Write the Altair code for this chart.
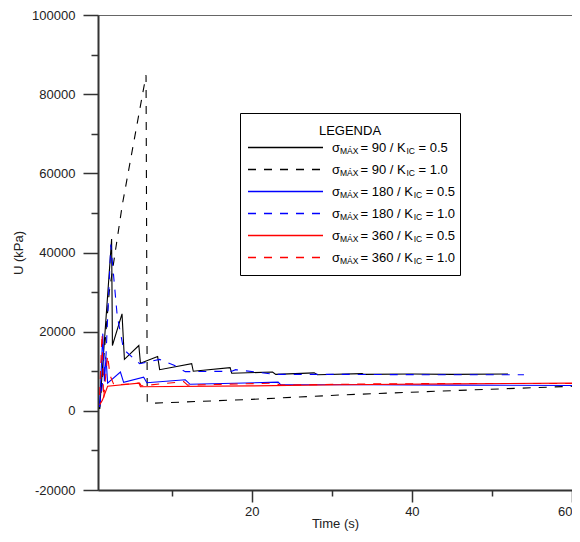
import altair as alt
import pandas as pd

# ---- data (Time in s, U in kPa) ----
t_90_05 = [1.0, 2.5, 2.6, 3.8, 4.1, 5.9, 6.1, 8.25, 8.5, 12.5, 12.7, 17.3, 17.5, 22.6, 23.0, 27.8, 28.2, 33.8, 34.0, 40.0, 45.0, 52.0]
u_90_05 = [500, 43400, 16500, 24500, 13000, 16500, 12000, 13700, 10400, 11900, 10000, 10900, 9500, 9800, 9200, 9600, 9100, 9400, 9200, 9300, 9200, 9300]

t_90_10 = [1.0, 2.2, 3.84, 6.8, 6.95, 7.3, 20.0, 31.0, 45.0, 60.0]
u_90_10 = [500, 30000, 52100, 84800, 2300, 1900, 2900, 4000, 5100, 6200]

t_180_05 = [1.0, 1.4, 1.6, 1.8, 2.0, 3.6, 4.0, 6.5, 6.9, 11.7, 12.3, 23.3, 23.6, 35.0, 45.0, 60.0]
u_180_05 = [1000, 19500, 7500, 13500, 7000, 9800, 7200, 8500, 7100, 7850, 6700, 7250, 6600, 6600, 6500, 6400]

t_180_10 = [1.0, 1.8, 2.4, 3.2, 4.0, 6.0, 8.5, 10.3, 11.7, 17.5, 18.0, 23.0, 32.0, 45.0, 54.0]
u_180_10 = [1000, 14000, 42000, 24000, 15500, 11900, 13000, 11500, 9900, 10000, 10400, 9200, 9200, 9100, 9100]

t_360_05 = [1.0, 1.35, 2.0, 5.9, 6.1, 20.0, 31.0, 45.0, 60.0]
u_360_05 = [1500, 2700, 6200, 7000, 6100, 6300, 6600, 6800, 7000]

t_360_10 = [1.0, 1.3, 1.5, 2.0, 2.3, 2.8, 6.0, 6.2, 11.5, 12.0, 23.0, 23.5, 35.0, 45.0, 60.0]
u_360_10 = [4000, 19500, 3000, 14000, 9000, 6500, 7000, 6300, 7400, 6500, 7000, 6500, 6800, 6900, 6900]

leg_sigma = ["90", "90", "180", "180", "360", "360"]
leg_k = ["0.5", "1.0", "0.5", "1.0", "0.5", "1.0"]

x_major = [20, 40, 60]
x_minor = [10, 30, 50]
y_major = [-20000, 0, 20000, 40000, 60000, 80000, 100000]
y_minor = [-10000, 10000, 30000, 50000, 70000, 90000]

FONT = "Liberation Sans"

series = [
    (t_90_05, u_90_05, "#000000", None),
    (t_90_10, u_90_10, "#000000", [8, 8]),
    (t_180_05, u_180_05, "#0000ff", None),
    (t_180_10, u_180_10, "#0000ff", [8, 8]),
    (t_360_05, u_360_05, "#ff0000", None),
    (t_360_10, u_360_10, "#ff0000", [8, 8]),
]

xscale = alt.Scale(domain=[0.8, 60], nice=False, zero=False)
yscale = alt.Scale(domain=[-20000, 100000], nice=False, zero=False)

x_axis_major = alt.Axis(
    values=x_major, orient="bottom", tickSize=12, tickColor="#333", tickWidth=1.5,
    domainColor="#333", domainWidth=2, labelFontSize=13, labelColor="#222",
    labelPadding=3, labelFlush=True, labelOverlap=False, grid=False,
    title="Time (s)", titleFontSize=13, titleFontWeight="normal", titleColor="#222",
    titleY=33, titleBaseline="middle", format="d",
)
y_axis_major = alt.Axis(
    values=y_major, orient="left", tickSize=15, tickColor="#333", tickWidth=1.5,
    domainColor="#333", domainWidth=2, labelFontSize=13, labelColor="#222",
    labelPadding=8, labelOverlap=False, grid=False,
    labelExpr="'' + datum.value",
    title="U (kPa)", titleFontSize=13, titleFontWeight="normal", titleColor="#222",
    titleX=-80, titleY=237.5, titleBaseline="middle",
)
x_enc = alt.X("t:Q", scale=xscale, axis=x_axis_major)
y_enc = alt.Y("U:Q", scale=yscale, axis=y_axis_major)

layers = []
for i, (tt, uu, col, dash) in enumerate(series):
    df = pd.DataFrame({"t": tt, "U": uu, "o": list(range(len(tt)))})
    kw = dict(color=col, strokeWidth=1.1, clip=True)
    if dash:
        kw["strokeDash"] = dash
    layers.append(alt.Chart(df).mark_line(**kw).encode(x=x_enc, y=y_enc, order="o:Q"))

# ---- manual legend ----
one = pd.DataFrame({"a": [0]})
box = alt.Chart(one).mark_rect(fill="white", stroke="black", strokeWidth=1).encode(
    x=alt.value(142.5), x2=alt.value(362.5), y=alt.value(98.5), y2=alt.value(260.5))
title_txt = alt.Chart(one).mark_text(text="LEGENDA", fontSize=13, font=FONT, align="center",
                                     baseline="middle", color="#000").encode(
    x=alt.value(252), y=alt.value(115.5))
layers += [box, title_txt]

rows = pd.DataFrame({"sigma": leg_sigma, "k": leg_k})
rows["i"] = list(range(len(rows)))
rows["ly"] = 132.5 + 22 * rows["i"]
rows["ly_sub"] = rows["ly"] + 3.5
rows["sig"] = "σ"
rows["sub1"] = "MÁX"
rows["mid"] = "= " + rows["sigma"] + " / K"
rows["sub2"] = "IC"
rows["tail"] = "= " + rows["k"]
rows["x_sig"] = 234.0
rows["x_sub1"] = 242.0
rows["x_mid"] = 262.5
rows["x_ic"] = 262.5 + 31.5 + 7.23 * rows["sigma"].str.len()
rows["x_tail"] = rows["x_ic"] + 8.5 + 3.6

for i, (tt, uu, col, dash) in enumerate(series):
    r = rows.iloc[[i]]
    kw = dict(color=col, strokeWidth=1.3)
    if dash:
        kw["strokeDash"] = dash
    layers.append(alt.Chart(r).mark_rule(**kw).encode(
        x=alt.value(150), x2=alt.value(225),
        y=alt.Y("ly:Q", scale=None, axis=None)))

def txt(xf, yf, tf, size):
    return alt.Chart(rows).mark_text(align="left", baseline="middle", fontSize=size,
                                     font=FONT, color="#000").encode(
        x=alt.X(xf + ":Q", scale=None, axis=None),
        y=alt.Y(yf + ":Q", scale=None, axis=None),
        text=tf + ":N")

layers += [
    txt("x_sig", "ly", "sig", 13),
    txt("x_sub1", "ly_sub", "sub1", 8.5),
    txt("x_mid", "ly", "mid", 13),
    txt("x_ic", "ly_sub", "sub2", 8.5),
    txt("x_tail", "ly", "tail", 13),
]

main = alt.layer(*layers)

minor = alt.Chart(pd.DataFrame({"t": t_90_05, "U": u_90_05})).mark_point(opacity=0).encode(
    x=alt.X("t:Q", scale=xscale, axis=alt.Axis(
        values=x_minor, orient="bottom", tickSize=6, tickColor="#333", tickWidth=1.5,
        domain=False, labels=False, grid=False, title="")),
    y=alt.Y("U:Q", scale=yscale, axis=alt.Axis(
        values=y_minor, orient="left", tickSize=7, tickColor="#333", tickWidth=1.5,
        domain=False, labels=False, grid=False, title="")),
)

chart = alt.layer(main, minor).resolve_axis(x="independent", y="independent").properties(
    width=474, height=475,
    padding={"left": 90, "top": 7, "right": 0, "bottom": 43},
    autosize=alt.AutoSizeParams(type="none"),
    background="white",
).configure_view(stroke="#666", strokeWidth=1).configure_axis(
    labelFont=FONT, titleFont=FONT
).configure_text(font=FONT)

chart.save("out.html", embed_options={"renderer": "svg", "actions": False})
